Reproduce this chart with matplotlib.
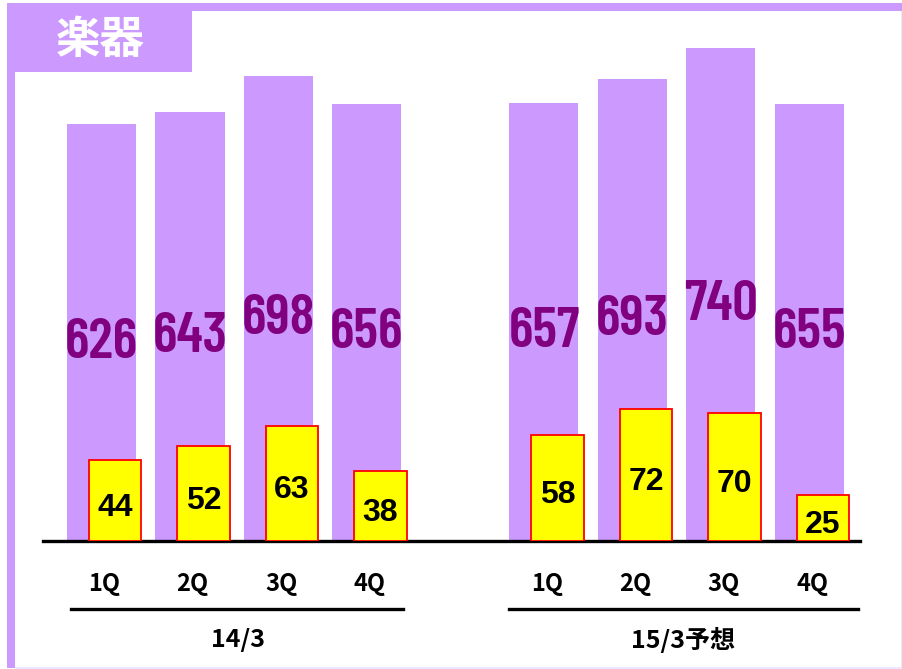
import matplotlib.pyplot as plt
from matplotlib.patches import Rectangle
from matplotlib.transforms import blended_transform_factory

# 楽器: quarterly sales (purple) and operating profit (yellow)
quarters = ["1Q", "2Q", "3Q", "4Q", "1Q", "2Q", "3Q", "4Q"]
periods = ["14/3", "15/3予想"]
sales = [626, 643, 698, 656, 657, 693, 740, 655]
profit = [44, 52, 63, 38, 58, 72, 70, 25]
pos = [0, 1, 2, 3, 5, 6, 7, 8]

purple = "#CC99FF"
jp = ["Noto Sans CJK JP", "DejaVu Sans"]
narrow = ["Barlow Condensed", "Liberation Sans Narrow", "DejaVu Sans"]

W, H = 903, 669
fig = plt.figure(figsize=(W / 100, H / 100), dpi=100)


def px(x0, y0, x1, y1):
    # pixel box (top-left origin) -> figure fraction rectangle
    return (x0 / W, 1 - y1 / H, (x1 - x0) / W, (y1 - y0) / H)


# frame and title tab
for box, col in [((7, 3, 903, 11), purple), ((7, 3, 15, 668), purple),
                 ((15, 11, 192, 72), purple),
                 ((901, 11, 903, 669), "#EEE6FF"), ((15, 667, 903, 669), "#EEE6FF")]:
    x, y, w, h = px(*box)
    fig.patches.append(Rectangle((x, y), w, h, transform=fig.transFigure,
                                 facecolor=col, edgecolor="none", zorder=0))
fig.text(100 / W, 1 - 40 / H, "楽器", color="white", fontsize=32, fontweight="bold",
         family=jp, ha="center", va="center")

ax = fig.add_axes(px(43, 41, 860, 541))
ax.set_xlim(-0.661, 8.571)
ax.set_ylim(0, 750)
ax.bar(pos, sales, width=0.78, color=purple, zorder=1)
for x, v in zip(pos, sales):
    ax.text(x, v / 2 - 8, str(v), color="#800080", fontsize=41,
            fontweight="semibold", family=narrow, ha="center", va="center_baseline",
            zorder=2)

ax2 = ax.twinx()
ax2.set_ylim(0, 273)
xp = [x + 0.153 for x in pos]
ax2.bar(xp, profit, width=0.593, color="#FFFF00", edgecolor="#FF0000", linewidth=1.3)
for x, v in zip(xp, profit):
    ax2.text(x, v / 2 - 2, str(v), color="black", fontsize=23, fontweight="bold",
             family=["Liberation Sans", "DejaVu Sans"], ha="center", va="center_baseline")

for a in (ax, ax2):
    for s in ("top", "left", "right"):
        a.spines[s].set_visible(False)
    a.set_yticks([])
ax2.spines["bottom"].set_visible(False)
ax.spines["bottom"].set_linewidth(2.4)
ax.tick_params(axis="x", length=0, pad=22)
ax.set_xticks([x + 0.03 for x in pos])
ax.set_xticklabels(quarters, fontsize=17, fontweight="bold", family=jp)

# period brackets below the quarter labels
tr = blended_transform_factory(ax.transData, ax.transAxes)
for (x0, x1), xc, name in zip([(-0.345, 3.41), (4.60, 8.55)], [1.54, 6.57], periods):
    ax.plot([x0, x1], [-0.136, -0.136], color="black", lw=2.4, transform=tr, clip_on=False)
    ax.text(xc, -0.198, name, transform=tr, fontsize=18, fontweight="bold",
            family=jp, ha="center", va="center")

fig.savefig("out.png", dpi=100, facecolor="white")
